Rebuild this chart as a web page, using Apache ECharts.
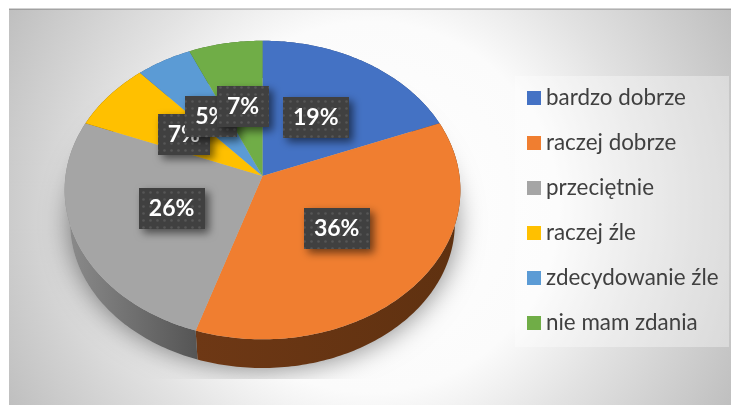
<!DOCTYPE html>
<html><head><meta charset="utf-8">
<style>html,body{margin:0;padding:0;background:#fff}#c{width:731px;height:405px}</style>
<script src="https://cdn.jsdelivr.net/npm/echarts@6/dist/echarts.min.js"></script>
</head><body><div id="c"></div>
<script>
const categories = ['bardzo dobrze','raczej dobrze','przeciętnie','raczej źle','zdecydowanie źle','nie mam zdania'];
const values = [19,36,26,7.4,5,6.6];
const colors = ['#4472C4','#F07E30','#A5A5A5','#FFC000','#5B9BD5','#70AD47'];
const wallColors = [
  ['#2a4476','#2a4476'],
  ['#6e3815','#5f3110'],
  ['#8c8c8c','#555555'],
  ['#7a5c00','#7a5c00'],
  ['#37608a','#37608a'],
  ['#43682b','#43682b']
];
const total = values.reduce((a,b)=>a+b,0);
const TOP = {cx:262.5, cy:176, rx:197, ry:148, k:0.094};
const BOT = {cx:262.5, cy:209.4, rx:191.5, ry:143.7, k:0.094};
function project(d, frac, r){
  const a = frac*2*Math.PI, u = r*Math.sin(a), v = -r*Math.cos(a), w = 1-d.k*v;
  return [d.cx+d.rx*u/w, d.cy+d.ry*v/w];
}
function arc(d, f0, f1){
  const n = Math.max(4, Math.ceil((f1-f0)*360)), p = [];
  for(let i=0;i<=n;i++) p.push(project(d, f0+(f1-f0)*i/n, 1));
  return p;
}
function startOf(i){ let s=0; for(let j=0;j<i;j++) s+=values[j]; return s/total; }

const pc = document.createElement('canvas'); pc.width=7; pc.height=7;
(function(){
  const c=pc.getContext('2d'); c.fillStyle='#404040'; c.fillRect(0,0,7,7);
  c.fillStyle='#565656'; c.beginPath(); c.arc(3.5,3.5,1.3,0,7); c.fill();
})();
const labelFont='bold 23px Lato';
const mc = document.createElement('canvas').getContext('2d');
mc.font=labelFont;

const series = categories.map((name,i)=>({
  name, type:'custom', coordinateSystem:'none',
  itemStyle:{color:colors[i]},
  silent:true, animation:false, legendHoverLink:false,
  data:[values[i]],
  renderItem(params, api){
    const f0=startOf(i), f1=f0+api.value(0)/total;
    const top=arc(TOP,f0,f1), bot=arc(BOT,f0,f1);
    const wall={type:'polygon', z2:1, shape:{points:top.concat(bot.slice().reverse())},
      style:{fill:new echarts.graphic.LinearGradient(0,0,1,0,[{offset:0,color:wallColors[i][0]},{offset:1,color:wallColors[i][1]}])}};
    const face={type:'polygon', z2:2, shape:{points:[[TOP.cx,TOP.cy]].concat(top)}, style:{fill:colors[i]}};
    const mid=project(TOP,(f0+f1)/2,0.5);
    const txt=Math.round(api.value(0))+'%';
    const w=Math.round(mc.measureText(txt).width)+20, h=41;
    const box={type:'rect', z2:10+i*2, shape:{x:Math.round(mid[0]-w/2),y:Math.round(mid[1]-h/2),width:w,height:h},
      style:{fill:{image:pc,repeat:'repeat'},shadowColor:'rgba(0,0,0,0.55)',shadowBlur:8,shadowOffsetX:4,shadowOffsetY:4}};
    const label={type:'text', z2:11+i*2, x:mid[0], y:mid[1],
      style:{text:txt,fill:'#fff',font:labelFont,align:'center',verticalAlign:'middle'}};
    const kids=[wall,face,box,label];
    if(i===0){
      const sh=arc(BOT,0,1);
      kids.unshift({type:'polygon', z2:0, shape:{points:sh},
        clipPath:{type:'rect',shape:{x:0,y:0,width:731,height:379}},
        style:{fill:'#bbb',shadowColor:'rgba(0,0,0,0.5)',shadowBlur:28,shadowOffsetX:0,shadowOffsetY:0}});
    }
    return {type:'group',children:kids};
  }
}));

const chart = echarts.init(document.getElementById('c'),null,{renderer:'canvas'});
chart.setOption({
  animation:false,
  graphic:[
    {type:'rect',z:-10,silent:true,shape:{x:9,y:9,width:722,height:396},
     style:{fill:{type:'radial',x:0.5,y:0.5,r:1.04,colorStops:[{offset:0,color:'#ffffff'},{offset:0.45,color:'#fbfbfb'},{offset:0.66,color:'#e2e2e2'},{offset:1,color:'#bfbfbf'}]}}},
    {type:'rect',z:-9,silent:true,shape:{x:9,y:8,width:722,height:2},style:{fill:'rgba(0,0,0,0.18)'}},
    {type:'rect',z:-5,silent:true,shape:{x:515,y:76,width:214,height:271},
     style:{fill:'rgba(255,255,255,0.35)'}}
  ],
  legend:{
    left:527, top:87, orient:'vertical', icon:'rect',
    itemWidth:14, itemHeight:14, itemGap:23, padding:0,
    textStyle:{color:'#404040',fontFamily:'Lato',fontSize:22.4},
    selectedMode:false,
    data:categories
  },
  series
});
</script></body></html>
